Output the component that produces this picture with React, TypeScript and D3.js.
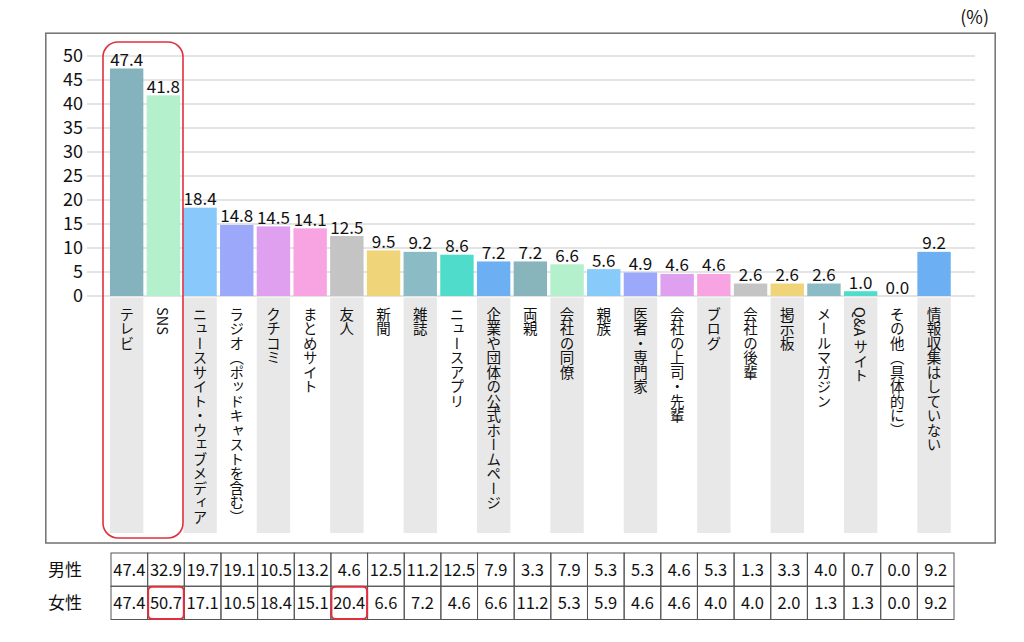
import React from "react";
import * as d3 from "d3";

const categories = [
  "テレビ", "SNS", "ニュースサイト・ウェブメディア", "ラジオ（ポッドキャストを含む）", "クチコミ",
  "まとめサイト", "友人", "新聞", "雑誌", "ニュースアプリ", "企業や団体の公式ホームページ",
  "両親", "会社の同僚", "親族", "医者・専門家", "会社の上司・先輩", "ブログ", "会社の後輩",
  "掲示板", "メールマガジン", "Q&A サイト", "その他（具体的に）", "情報収集はしていない",
];
const totals = [47.4, 41.8, 18.4, 14.8, 14.5, 14.1, 12.5, 9.5, 9.2, 8.6, 7.2, 7.2, 6.6, 5.6, 4.9, 4.6, 4.6, 2.6, 2.6, 2.6, 1.0, 0.0, 9.2];
const male = [47.4, 32.9, 19.7, 19.1, 10.5, 13.2, 4.6, 12.5, 11.2, 12.5, 7.9, 3.3, 7.9, 5.3, 5.3, 4.6, 5.3, 1.3, 3.3, 4.0, 0.7, 0.0, 9.2];
const female = [47.4, 50.7, 17.1, 10.5, 18.4, 15.1, 20.4, 6.6, 7.2, 4.6, 6.6, 11.2, 5.3, 5.9, 4.6, 4.6, 4.0, 4.0, 2.0, 1.3, 1.3, 0.0, 9.2];
const rowLabels = ["男性", "女性"];
const yTicks = [0, 5, 10, 15, 20, 25, 30, 35, 40, 45, 50];
const barColors = [
  "#84b3be", "#b3f0cb", "#88c8fb", "#9ca9fb", "#e0a0f0", "#f8a4e3", "#c3c4c3", "#f0d47a",
  "#8bbcc5", "#50dccb", "#6cb0f3", "#88b4bc", "#b3f0cb", "#88cbfb", "#9ca9fb", "#e0a0f0",
  "#f8a4e3", "#c3c4c3", "#f0d47a", "#8bbcc5", "#50dccb", "#6cb0f3", "#6cb0f3",
];
const highlightCells = [[1, 1], [1, 6]];

const FONT = "'Noto Sans CJK JP', 'Noto Sans', sans-serif";

export default function App() {
  const x = d3.scaleBand<string>().domain(categories).range([108.3, 952.4]).paddingInner(0.09).paddingOuter(0.045);
  const y = d3.scaleLinear().domain([0, 50]).range([296, 56]);
  const xt = d3.scaleBand<string>().domain(categories).range([111, 954]);
  const rowY = d3.scaleBand<string>().domain(rowLabels).range([553, 619.5]);
  const fmt = d3.format(".1f");

  return (
    <svg width={1024} height={642} style={{ position: "absolute", left: 0, top: 0, background: "#fff" }} fontFamily={FONT}>
      <rect x={0} y={0} width={1024} height={642} fill="#fff" />
      <text x={989} y={24} fontSize={18} textAnchor="end" fill="#111">(%)</text>
      <rect x={45.8} y={33.2} width={949.4} height={509.8} fill="none" stroke="#707070" strokeWidth={1.5} />

      {/* label backgrounds */}
      {categories.map((c, i) =>
        i % 2 === 0 ? (
          <rect key={"bg" + i} x={x(c)} y={297.5} width={x.bandwidth()} height={235.5} fill="#e8e8e8" />
        ) : null
      )}

      {/* grid */}
      {yTicks.map((t) => (
        <g key={"g" + t}>
          <line x1={87} x2={975} y1={y(t)} y2={y(t)} stroke="#c9c9c9" strokeWidth={1} />
          <text x={83} y={y(t)} dy="0.36em" fontSize={18} textAnchor="end" fill="#111">{t}</text>
        </g>
      ))}

      {/* bars */}
      {categories.map((c, i) => (
        <rect key={"b" + i} x={x(c)} y={y(totals[i])} width={x.bandwidth()} height={y(0) - y(totals[i])} fill={barColors[i]} />
      ))}
      {categories.map((c, i) => (
        <text key={"v" + i} x={(x(c) as number) + x.bandwidth() / 2} y={y(totals[i]) - 2.5} fontSize={17} textAnchor="middle" fill="#111">
          {fmt(totals[i])}
        </text>
      ))}

      {/* category labels */}
      {categories.map((c, i) => (
        <text
          key={"l" + i}
          x={(x(c) as number) + x.bandwidth() / 2}
          y={307}
          fontSize={14.5}
          fill="#111"
          style={{ writingMode: "vertical-rl", textOrientation: "mixed" } as any}
        >
          {c}
        </text>
      ))}

      <rect x={103} y={42} width={80} height={496} rx={15} ry={15} fill="none" stroke="#e0303e" strokeWidth={1.6} />

      {/* table */}
      {rowLabels.map((r, ri) => {
        const vals = ri === 0 ? male : female;
        const ry = rowY(r) as number;
        return (
          <g key={"r" + ri}>
            <text x={48} y={ry + rowY.bandwidth() / 2} dy="0.36em" fontSize={17} fill="#111">{r}</text>
            {categories.map((c, i) => (
              <g key={"c" + i}>
                <rect x={xt(c)} y={ry} width={xt.bandwidth()} height={rowY.bandwidth()} fill="none" stroke="#555" strokeWidth={1} />
                <text x={(xt(c) as number) + xt.bandwidth() / 2} y={ry + rowY.bandwidth() / 2} dy="0.36em" fontSize={16.5} textAnchor="middle" fill="#111">
                  {fmt(vals[i])}
                </text>
              </g>
            ))}
          </g>
        );
      })}
      {highlightCells.map(([ri, ci], k) => (
        <rect
          key={"h" + k}
          x={(xt(categories[ci]) as number) + 0.5}
          y={(rowY(rowLabels[ri]) as number) + 0.5}
          width={xt.bandwidth() - 1}
          height={rowY.bandwidth() - 1}
          rx={4}
          ry={4}
          fill="none"
          stroke="#e0303e"
          strokeWidth={2}
        />
      ))}
    </svg>
  );
}
